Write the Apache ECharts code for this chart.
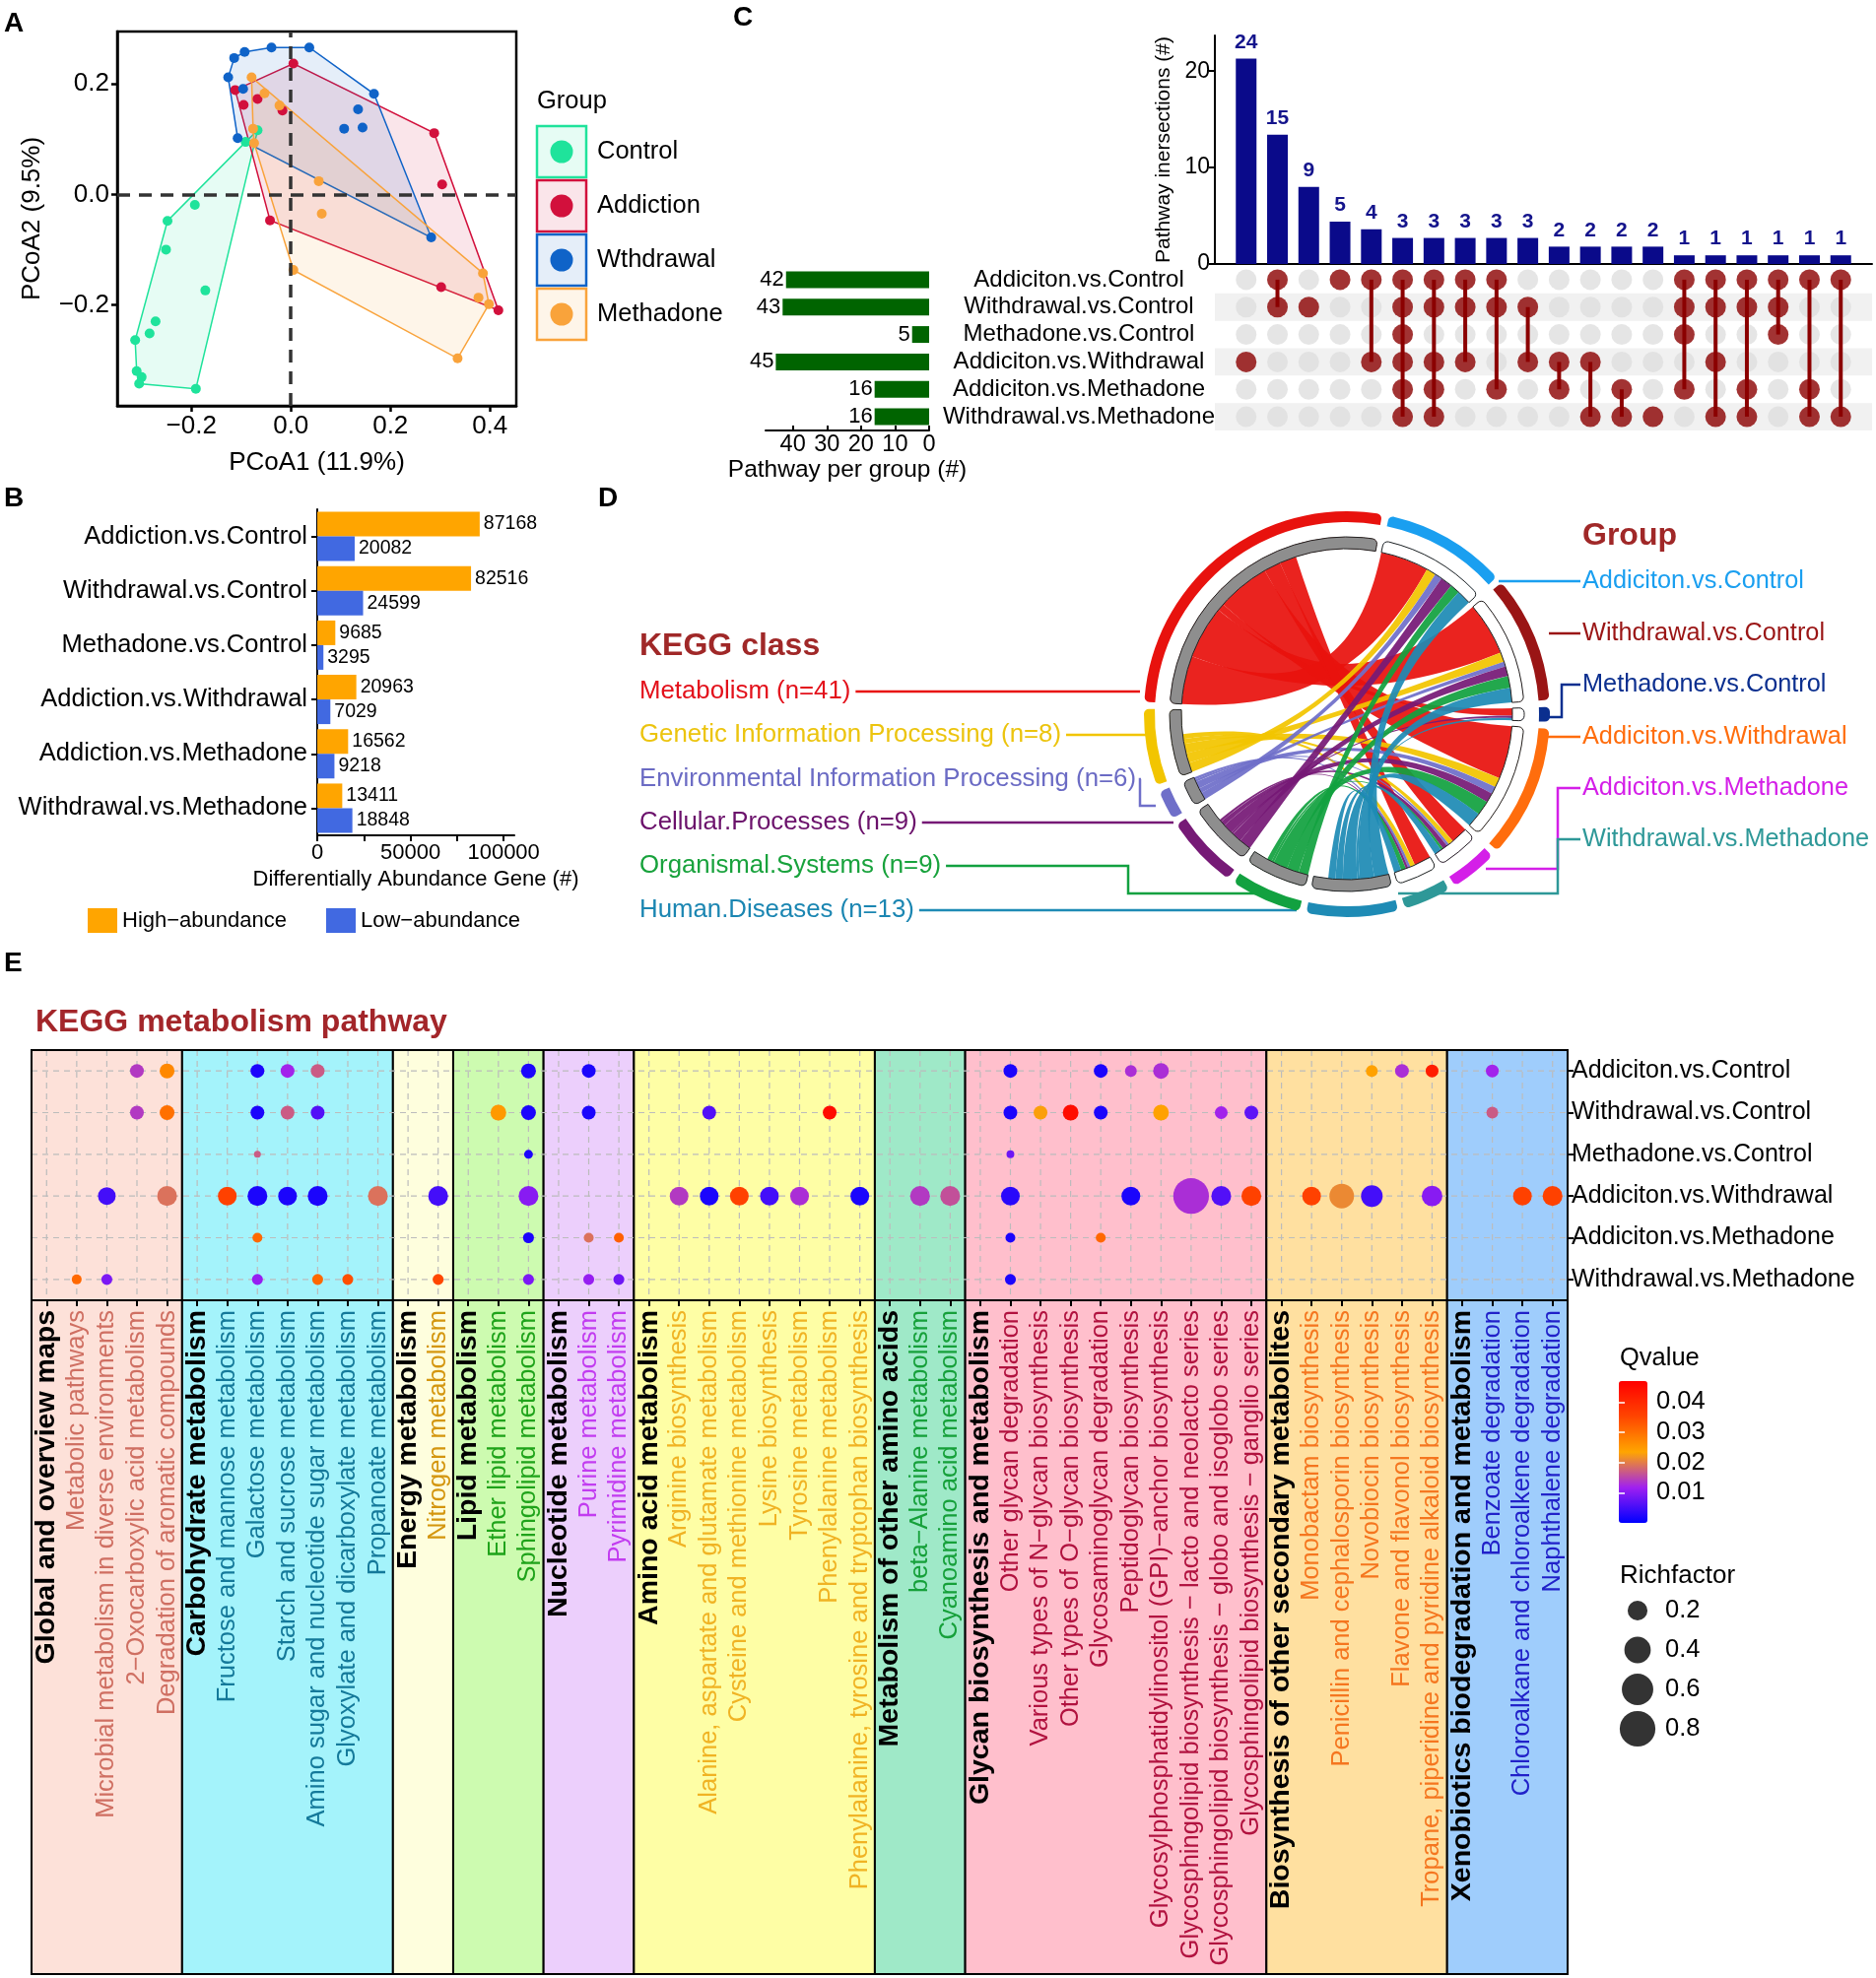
<!DOCTYPE html>
<html>
<head>
<meta charset="utf-8">
<script src="https://cdn.jsdelivr.net/npm/echarts@6.0.0/dist/echarts.min.js"></script>
<style>
html,body{margin:0;padding:0;background:#ffffff;}
#main{position:absolute;left:0;top:0;width:1904px;height:2008px;}
#chord{position:absolute;left:1100px;top:490px;width:540px;height:470px;}
</style>
</head>
<body>
<div id="main"></div>
<div id="chord"></div>
<script>
const MINUS = '\u2212';
const FONT = '"Liberation Sans", Arial, Helvetica, sans-serif';

// ================= Panel A : PCoA =================
const pcoaGroups = ['Control', 'Addiction', 'Wthdrawal', 'Methadone'];
const pcoaColors = ['#1fe39b', '#d2103c', '#0f63c8', '#f9a33b'];
const pcoaControl = [[-0.067,0.116],[-0.091,0.095],[-0.193,-0.019],[-0.248,-0.048],[-0.251,-0.100],[-0.172,-0.174],[-0.272,-0.230],[-0.284,-0.252],[-0.313,-0.264],[-0.310,-0.320],[-0.300,-0.331],[-0.305,-0.343],[-0.191,-0.352]];
const pcoaAddiction = [[0.005,0.237],[-0.112,0.189],[-0.067,0.173],[-0.095,0.162],[-0.017,0.152],[0.288,0.111],[0.304,0.018],[-0.042,-0.047],[0.302,-0.168],[0.417,-0.210]];
const pcoaWithdrawal = [[-0.039,0.266],[0.037,0.266],[-0.093,0.258],[-0.114,0.247],[-0.126,0.212],[-0.096,0.191],[0.167,0.182],[0.135,0.154],[0.107,0.119],[0.144,0.121],[-0.107,0.102],[0.282,-0.078]];
const pcoaMethadone = [[-0.079,0.212],[-0.053,0.183],[-0.023,0.161],[-0.076,0.119],[-0.074,0.093],[0.056,0.024],[0.062,-0.035],[0.005,-0.137],[0.386,-0.143],[0.377,-0.187],[0.398,-0.199],[0.335,-0.297]];
const pcoaPoints = [pcoaControl, pcoaAddiction, pcoaWithdrawal, pcoaMethadone];
const pcoaXTicks = [-0.2, 0, 0.2, 0.4];
const pcoaYTicks = [-0.2, 0, 0.2];

// ================= Panel B : DEG bars =================
const degCategories = ['Addiction.vs.Control','Withdrawal.vs.Control','Methadone.vs.Control','Addiction.vs.Withdrawal','Addiction.vs.Methadone','Withdrawal.vs.Methadone'];
const degHigh = [87168, 82516, 9685, 20963, 16562, 13411];
const degLow = [20082, 24599, 3295, 7029, 9218, 18848];
const degLegend = ['High' + MINUS + 'abundance', 'Low' + MINUS + 'abundance'];
const degXLabels = [0, 50000, 100000];
const degXTicks = [0, 25000, 50000, 75000, 100000];

// ================= Panel C : UpSet =================
const setNames = ['Addiciton.vs.Control','Withdrawal.vs.Control','Methadone.vs.Control','Addiciton.vs.Withdrawal','Addiciton.vs.Methadone','Withdrawal.vs.Methadone'];
const setSizes = [42, 43, 5, 45, 16, 16];
const setSizeTicks = [0, 10, 20, 30, 40];
const interLabels = [24, 15, 9, 5, 4, 3, 3, 3, 3, 3, 2, 2, 2, 2, 1, 1, 1, 1, 1, 1];
const interBarHeights = [21.3, 13.4, 8.0, 4.4, 3.6, 2.7, 2.7, 2.7, 2.7, 2.7, 1.8, 1.8, 1.8, 1.8, 0.9, 0.9, 0.9, 0.9, 0.9, 0.9];
const interSets = [[3],[0,1],[1],[0],[0,3],[0,1,2,3,4,5],[0,1,3,4,5],[0,1,3],[0,1,4],[1,3],[3,4],[3,5],[4,5],[5],[0,1,2,4],[0,1,3,5],[0,1,4,5],[0,1,2],[0,4,5],[0,5]];
const interYTicks = [0, 10, 20];

// ================= Panel D : chord =================
const keggClasses = ['Metabolism','Genetic Information Processing','Environmental Information Processing','Cellular.Processes','Organismal.Systems','Human.Diseases'];
const keggClassN = [41, 8, 6, 9, 9, 13];
const keggClassColors = ['#e8120e','#f2c500','#6f6fc9','#761a76','#12a140','#1e8bb5'];
const keggClassTextColors = ['#e3111b','#ecc40e','#6b6bc4','#6b116b','#18a23c','#1b86b2'];
const keggClassArc = [114, 26, 10, 25, 24, 31];
const chordGroupColors = ['#1a9ff0','#9a1515','#0b2f8f','#ff6d0d','#d41fe8','#2e9898'];
// rows: KEGG classes, columns: comparison groups
const chordLinks = [
  [20, 22, 3, 22, 7, 7],
  [4, 4, 0, 4, 2, 2],
  [3, 2, 0, 3, 1, 1],
  [5, 4, 1, 4, 2, 1],
  [4, 5, 0, 6, 1, 2],
  [6, 6, 1, 6, 3, 3]
];

// ================= Panel E : KEGG dot plot =================
const eClasses = ['Global and overview maps','Carbohydrate metabolism','Energy metabolism','Lipid metabolism','Nucleotide metabolism','Amino acid metabolism','Metabolism of other amino acids','Glycan biosynthesis and metabolism','Biosynthesis of other secondary metabolites','Xenobiotics biodegradation and metabolism'];
const ePathways = [
  ['Metabolic pathways','Microbial metabolism in diverse environments','2-Oxocarboxylic acid metabolism','Degradation of aromatic compounds'],
  ['Fructose and mannose metabolism','Galactose metabolism','Starch and sucrose metabolism','Amino sugar and nucleotide sugar metabolism','Glyoxylate and dicarboxylate metabolism','Propanoate metabolism'],
  ['Nitrogen metabolism'],
  ['Ether lipid metabolism','Sphingolipid metabolism'],
  ['Purine metabolism','Pyrimidine metabolism'],
  ['Arginine biosynthesis','Alanine, aspartate and glutamate metabolism','Cysteine and methionine metabolism','Lysine biosynthesis','Tyrosine metabolism','Phenylalanine metabolism','Phenylalanine, tyrosine and tryptophan biosynthesis'],
  ['beta-Alanine metabolism','Cyanoamino acid metabolism'],
  ['Other glycan degradation','Various types of N-glycan biosynthesis','Other types of O-glycan biosynthesis','Glycosaminoglycan degradation','Peptidoglycan biosynthesis','Glycosylphosphatidylinositol (GPI)-anchor biosynthesis','Glycosphingolipid biosynthesis - lacto and neolacto series','Glycosphingolipid biosynthesis - globo and isoglobo series','Glycosphingolipid biosynthesis - ganglio series'],
  ['Monobactam biosynthesis','Penicillin and cephalosporin biosynthesis','Novobiocin biosynthesis','Flavone and flavonol biosynthesis','Tropane, piperidine and pyridine alkaloid biosynthesis'],
  ['Benzoate degradation','Chloroalkane and chloroalkene degradation','Naphthalene degradation']
];
const eLabelColors = ['#cf6f62','#14799a','#d4960f','#1fa31a','#c23cf0','#f0b324','#16a03a','#b1123f','#f5761f','#2121c9'];
const eBgColors = ['#fde1d9','#a4f3fb','#fefedd','#cdfbb0','#eccffc','#fefea5','#9fe9c8','#ffbfcc','#ffe0a0','#9fcdfc'];
const eGroups = setNames;
// [pathway, qvalue, richfactor]
const eDotsAC = [
  ['2-Oxocarboxylic acid metabolism',0.014,0.077],['Degradation of aromatic compounds',0.027,0.094],
  ['Galactose metabolism',0.002,0.077],['Starch and sucrose metabolism',0.012,0.077],['Amino sugar and nucleotide sugar metabolism',0.017,0.077],
  ['Sphingolipid metabolism',0.002,0.094],['Purine metabolism',0.002,0.077],['Other glycan degradation',0.002,0.077],
  ['Glycosaminoglycan degradation',0.002,0.077],['Peptidoglycan biosynthesis',0.013,0.049],['Glycosylphosphatidylinositol (GPI)-anchor biosynthesis',0.013,0.11],
  ['Novobiocin biosynthesis',0.024,0.049],['Flavone and flavonol biosynthesis',0.013,0.077],['Tropane, piperidine and pyridine alkaloid biosynthesis',0.042,0.063],
  ['Benzoate degradation',0.012,0.063]
];
const eDotsWC = [
  ['2-Oxocarboxylic acid metabolism',0.014,0.077],['Degradation of aromatic compounds',0.030,0.094],
  ['Galactose metabolism',0.002,0.077],['Starch and sucrose metabolism',0.017,0.077],['Amino sugar and nucleotide sugar metabolism',0.006,0.077],
  ['Ether lipid metabolism',0.025,0.11],['Sphingolipid metabolism',0.002,0.094],['Purine metabolism',0.002,0.077],
  ['Alanine, aspartate and glutamate metabolism',0.006,0.077],['Phenylalanine metabolism',0.045,0.077],['Other glycan degradation',0.002,0.077],
  ['Various types of N-glycan biosynthesis',0.023,0.077],['Other types of O-glycan biosynthesis',0.045,0.11],['Glycosaminoglycan degradation',0.002,0.077],
  ['Glycosylphosphatidylinositol (GPI)-anchor biosynthesis',0.024,0.11],['Glycosphingolipid biosynthesis - globo and isoglobo series',0.012,0.063],
  ['Glycosphingolipid biosynthesis - ganglio series',0.007,0.077],['Benzoate degradation',0.017,0.049]
];
const eDotsMC = [
  ['Galactose metabolism',0.017,0.007],['Sphingolipid metabolism',0.002,0.019],['Other glycan degradation',0.008,0.012]
];
const eDotsAW = [
  ['Microbial metabolism in diverse environments',0.005,0.15],['Degradation of aromatic compounds',0.019,0.2],
  ['Fructose and mannose metabolism',0.036,0.174],['Galactose metabolism',0.002,0.2],['Starch and sucrose metabolism',0.002,0.174],
  ['Amino sugar and nucleotide sugar metabolism',0.002,0.2],['Propanoate metabolism',0.019,0.2],['Nitrogen metabolism',0.005,0.2],
  ['Sphingolipid metabolism',0.010,0.2],['Arginine biosynthesis',0.014,0.174],['Alanine, aspartate and glutamate metabolism',0.002,0.174],
  ['Cysteine and methionine metabolism',0.036,0.174],['Lysine biosynthesis',0.005,0.174],['Tyrosine metabolism',0.013,0.174],
  ['Phenylalanine, tyrosine and tryptophan biosynthesis',0.002,0.174],['beta-Alanine metabolism',0.014,0.2],['Cyanoamino acid metabolism',0.016,0.2],
  ['Other glycan degradation',0.003,0.174],['Peptidoglycan biosynthesis',0.002,0.174],['Glycosphingolipid biosynthesis - lacto and neolacto series',0.013,0.8],
  ['Glycosphingolipid biosynthesis - globo and isoglobo series',0.006,0.2],['Glycosphingolipid biosynthesis - ganglio series',0.036,0.2],
  ['Monobactam biosynthesis',0.036,0.174],['Penicillin and cephalosporin biosynthesis',0.021,0.34],['Novobiocin biosynthesis',0.005,0.25],
  ['Tropane, piperidine and pyridine alkaloid biosynthesis',0.010,0.22],['Chloroalkane and chloroalkene degradation',0.036,0.174],
  ['Naphthalene degradation',0.036,0.2]
];
const eDotsAM = [
  ['Galactose metabolism',0.031,0.028],['Sphingolipid metabolism',0.002,0.039],['Purine metabolism',0.019,0.028],
  ['Pyrimidine metabolism',0.032,0.028],['Other glycan degradation',0.002,0.028],['Glycosaminoglycan degradation',0.031,0.028]
];
const eDotsWM = [
  ['Metabolic pathways',0.031,0.028],['Microbial metabolism in diverse environments',0.009,0.039],['Galactose metabolism',0.011,0.039],
  ['Amino sugar and nucleotide sugar metabolism',0.031,0.039],['Glyoxylate and dicarboxylate metabolism',0.034,0.039],['Nitrogen metabolism',0.035,0.039],
  ['Sphingolipid metabolism',0.009,0.039],['Purine metabolism',0.011,0.039],['Pyrimidine metabolism',0.008,0.039],['Other glycan degradation',0.002,0.039]
];
const eDotsByGroup = [eDotsAC, eDotsWC, eDotsMC, eDotsAW, eDotsAM, eDotsWM];
const qRange = [0, 0.047];
const qColors = ['#0000ff', '#a020f0', '#ffa500', '#ff4500', '#ff0000'];
const qTicks = [0.01, 0.02, 0.03, 0.04];
const richLegend = [0.2, 0.4, 0.6, 0.8];

// ================= helpers =================
const mfix = s => s.replace(/-/g, MINUS);
function hexA(hex, a) {
  const n = parseInt(hex.slice(1), 16);
  return 'rgba(' + ((n >> 16) & 255) + ',' + ((n >> 8) & 255) + ',' + (n & 255) + ',' + a + ')';
}
function convexHull(pts) {
  const p = pts.slice().sort((a, b) => a[0] - b[0] || a[1] - b[1]);
  const cr = (o, a, b) => (a[0] - o[0]) * (b[1] - o[1]) - (a[1] - o[1]) * (b[0] - o[0]);
  const lo = [], up = [];
  for (const q of p) { while (lo.length >= 2 && cr(lo[lo.length - 2], lo[lo.length - 1], q) <= 0) lo.pop(); lo.push(q); }
  for (let i = p.length - 1; i >= 0; i--) { const q = p[i]; while (up.length >= 2 && cr(up[up.length - 2], up[up.length - 1], q) <= 0) up.pop(); up.push(q); }
  lo.pop(); up.pop();
  return lo.concat(up);
}
const fmtMinus = v => (v < 0 ? MINUS : '') + Math.abs(v).toFixed(1);
const richSize = rf => 4 + 36 * Math.sqrt(rf);
const _ctx = document.createElement('canvas').getContext('2d');
function textW(t, font) { _ctx.font = font; return _ctx.measureText(t).width; }
const F = (size, bold) => (bold ? 'bold ' : '') + size + 'px ' + FONT;

// E categories
const eCategories = [];
const eCatClass = [];
const eIsHeader = {};
eClasses.forEach((c, ci) => {
  eCategories.push(c); eCatClass.push(ci); eIsHeader[c] = true;
  ePathways[ci].forEach(p => { eCategories.push(mfix(p)); eCatClass.push(ci); });
});
const eClassRanges = [];
{
  let s = 0;
  eClasses.forEach((c, ci) => { const n = ePathways[ci].length + 1; eClassRanges.push([s, s + n - 1, ci]); s += n; });
}
const eScatterData = [];
eDotsByGroup.forEach((arr, gi) => arr.forEach(d => {
  const xi = eCategories.indexOf(mfix(d[0]));
  if (xi >= 0) eScatterData.push([xi, gi, d[1], d[2]]);
}));

// ================= build option =================
const grids = [], xAxes = [], yAxes = [], series = [];
const blackLine = w => ({ show: true, onZero: false, lineStyle: { color: '#000', width: w } });
const noAxis = { show: false };

// ---- A ----
grids.push({ left: 119, top: 32, width: 405, height: 380, show: true, borderColor: '#000', borderWidth: 2.5, backgroundColor: 'transparent' });
xAxes.push({ type: 'value', gridIndex: 0, min: -0.349, max: 0.453, axisLine: blackLine(2.5),
  axisTick: { show: true, customValues: pcoaXTicks, length: 6, lineStyle: { color: '#000', width: 2.5 } },
  axisLabel: { customValues: pcoaXTicks, formatter: fmtMinus, fontSize: 26, color: '#000', margin: 8 },
  splitLine: { show: false }, name: 'PCoA1 (11.9%)', nameLocation: 'middle', nameGap: 45, nameTextStyle: { fontSize: 26, color: '#000' } });
yAxes.push({ type: 'value', gridIndex: 0, min: -0.383, max: 0.295, axisLine: blackLine(2.5),
  axisTick: { show: true, customValues: pcoaYTicks, length: 6, lineStyle: { color: '#000', width: 2.5 } },
  axisLabel: { customValues: pcoaYTicks, formatter: fmtMinus, fontSize: 26, color: '#000', margin: 8 },
  splitLine: { show: false }, name: 'PCoA2 (9.5%)', nameLocation: 'middle', nameRotate: 90, nameGap: 73, nameTextStyle: { fontSize: 26, color: '#000' } });
pcoaPoints.forEach((pts, gi) => {
  const hp = convexHull(pts);
  series.push({ type: 'custom', xAxisIndex: 0, yAxisIndex: 0, z: 1, silent: true, data: [[0, 0]],
    renderItem: (params, api) => ({ type: 'polygon', shape: { points: hp.map(p => api.coord(p)) },
      style: { fill: hexA(pcoaColors[gi], 0.11), stroke: pcoaColors[gi], lineWidth: 1.5 } }) });
});
series.push({ type: 'scatter', xAxisIndex: 0, yAxisIndex: 0, z: 2, data: [], silent: true,
  markLine: { silent: true, symbol: ['none', 'none'], label: { show: false },
    lineStyle: { color: '#333', width: 3.5, type: [13, 9] }, data: [{ xAxis: 0 }, { yAxis: 0 }] } });
pcoaPoints.forEach((pts, gi) => {
  series.push({ type: 'scatter', name: pcoaGroups[gi], xAxisIndex: 0, yAxisIndex: 0, z: 3, data: pts,
    symbolSize: 10, itemStyle: { color: pcoaColors[gi], opacity: 1 } });
});

// ---- B ----
grids.push({ left: 322, top: 517, width: 200, height: 331 });
xAxes.push({ type: 'value', gridIndex: 1, min: 0, max: 105745, axisLine: blackLine(2),
  axisTick: { show: true, customValues: degXTicks, length: 6, lineStyle: { color: '#000', width: 2 } },
  axisLabel: { customValues: degXLabels, formatter: v => String(v), fontSize: 22, color: '#000', margin: 7 }, splitLine: { show: false },
  name: 'Differentially Abundance Gene (#)', nameLocation: 'middle', nameGap: 34, nameTextStyle: { fontSize: 22, color: '#000' } });
yAxes.push({ type: 'category', gridIndex: 1, data: degCategories, inverse: true, axisLine: blackLine(2),
  axisTick: { show: true, alignWithLabel: true, length: 6, lineStyle: { color: '#000', width: 2 } },
  axisLabel: { interval: 0, fontSize: 25.5, color: '#000', margin: 10 } });
series.push({ type: 'bar', name: degLegend[0], xAxisIndex: 1, yAxisIndex: 1, data: degHigh, barWidth: 25, barGap: '0%',
  itemStyle: { color: '#ffa500' }, label: { show: true, position: 'right', distance: 4, fontSize: 19.5, color: '#000' } });
series.push({ type: 'bar', name: degLegend[1], xAxisIndex: 1, yAxisIndex: 1, data: degLow, barWidth: 25, barGap: '0%',
  itemStyle: { color: '#4169e1' }, label: { show: true, position: 'right', distance: 4, fontSize: 19.5, color: '#000' } });

// ---- C top bars ----
grids.push({ left: 1233, top: 36, width: 667, height: 232 });
xAxes.push({ type: 'value', gridIndex: 2, min: -1, max: 20, axisLine: blackLine(2), axisTick: noAxis, axisLabel: noAxis, splitLine: noAxis });
yAxes.push({ type: 'value', gridIndex: 2, min: 0, max: 23.7, axisLine: blackLine(2),
  axisTick: { show: true, customValues: interYTicks, length: 6, lineStyle: { color: '#000', width: 2 } },
  axisLabel: { customValues: interYTicks, fontSize: 23, color: '#000', margin: 5 }, splitLine: { show: false },
  name: 'Pathway inersections (#)', nameLocation: 'middle', nameRotate: 90, nameGap: 41, nameTextStyle: { fontSize: 21, color: '#000' } });
series.push({ type: 'bar', xAxisIndex: 2, yAxisIndex: 2, barWidth: 21, data: interBarHeights.map((h, i) => [i, h]),
  itemStyle: { color: '#0a0a8a' },
  label: { show: true, position: 'top', distance: 6, fontSize: 21, fontWeight: 'bold', color: '#14148c', formatter: p => String(interLabels[p.dataIndex]) } });

// ---- C matrix ----
grids.push({ left: 1233, top: 270, width: 667, height: 167 });
xAxes.push({ type: 'value', gridIndex: 3, min: -1, max: 20, show: false });
yAxes.push({ type: 'category', gridIndex: 3, data: setNames, inverse: true, show: false });
series.push({ type: 'custom', xAxisIndex: 3, yAxisIndex: 3, silent: true, z: 1, data: [[0, 1], [0, 3], [0, 5]],
  renderItem: (params, api) => {
    const cy = api.coord([0, api.value(1)])[1];
    const h = api.size([0, 1])[1];
    const cs = params.coordSys;
    return { type: 'rect', shape: { x: cs.x, y: cy - h / 2, width: cs.width, height: h }, style: { fill: '#f1f1f1' } };
  } });
const grayDots = [], redDots = [], linkCols = [];
interSets.forEach((s, i) => {
  for (let r = 0; r < setNames.length; r++) (s.includes(r) ? redDots : grayDots).push([i, r]);
  if (s.length > 1) linkCols.push([i, Math.min(...s), Math.max(...s)]);
});
series.push({ type: 'scatter', xAxisIndex: 3, yAxisIndex: 3, z: 2, silent: true, data: grayDots, symbolSize: 21, itemStyle: { color: '#dedede' } });
series.push({ type: 'custom', xAxisIndex: 3, yAxisIndex: 3, z: 3, silent: true, data: linkCols,
  renderItem: (params, api) => {
    const a = api.coord([api.value(0), api.value(1)]);
    const b = api.coord([api.value(0), api.value(2)]);
    return { type: 'line', shape: { x1: a[0], y1: a[1], x2: b[0], y2: b[1] }, style: { stroke: '#8b0000', lineWidth: 4 } };
  } });
series.push({ type: 'scatter', xAxisIndex: 3, yAxisIndex: 3, z: 4, silent: true, data: redDots, symbolSize: 21, itemStyle: { color: '#8b0000' } });

// ---- C set sizes ----
grids.push({ left: 777, top: 270, width: 166, height: 167 });
xAxes.push({ type: 'value', gridIndex: 4, inverse: true, min: 0, max: 48, axisLine: blackLine(2),
  axisTick: { show: true, customValues: setSizeTicks, length: 5, inside: true, lineStyle: { color: '#000', width: 2 } },
  axisLabel: { customValues: setSizeTicks, fontSize: 23.5, color: '#000', margin: 3 }, splitLine: { show: false },
  name: 'Pathway per group (#)', nameLocation: 'middle', nameGap: 27, nameTextStyle: { fontSize: 24.5, color: '#000' } });
yAxes.push({ type: 'category', gridIndex: 4, data: setNames, inverse: true, position: 'right', axisLine: { show: false }, axisTick: { show: false },
  axisLabel: { interval: 0, fontSize: 24, color: '#000', align: 'center', margin: 152 } });
series.push({ type: 'bar', xAxisIndex: 4, yAxisIndex: 4, data: setSizes, barWidth: 17, itemStyle: { color: '#006400' },
  label: { show: true, position: 'left', distance: 2, fontSize: 22, color: '#000' } });

// ---- E background ----
grids.push({ left: 32, top: 1066, width: 1559, height: 938 });
xAxes.push({ type: 'category', gridIndex: 5, data: eCategories, show: false });
yAxes.push({ type: 'value', gridIndex: 5, min: 0, max: 1, show: false });
series.push({ type: 'custom', xAxisIndex: 5, yAxisIndex: 5, z: 1, silent: true, data: eClassRanges,
  renderItem: (params, api) => {
    const bw = api.size([1, 0])[0];
    const x0 = api.coord([api.value(0), 0])[0] - bw / 2;
    const x1 = api.coord([api.value(1), 0])[0] + bw / 2;
    const cs = params.coordSys;
    return { type: 'rect', shape: { x: x0, y: cs.y, width: x1 - x0, height: cs.height },
      style: { fill: eBgColors[api.value(2)], stroke: '#000', lineWidth: 2 } };
  } });

// ---- E main dot plot ----
grids.push({ left: 32, top: 1066, width: 1559, height: 254, show: true, borderColor: '#000', borderWidth: 2, backgroundColor: 'transparent', z: 4 });
xAxes.push({ type: 'category', gridIndex: 6, data: eCategories, z: 3, axisLine: blackLine(2),
  axisTick: { show: true, alignWithLabel: true, length: 6, lineStyle: { color: '#000', width: 2 } },
  splitLine: { show: false },
  axisLabel: { interval: 0, rotate: 90, margin: 10, fontSize: 25.5,
    color: (v, i) => eLabelColors[eCatClass[eCategories.indexOf(v)]],
    formatter: v => (eIsHeader[v] ? '{h|' + v + '}' : '{n|' + v + '}'),
    rich: { h: { fontSize: 28.5, fontWeight: 'bold', color: '#000' }, n: { fontSize: 25.5 } } } });
yAxes.push({ type: 'category', gridIndex: 6, data: eGroups, inverse: true, position: 'right', z: 3, axisLine: blackLine(2),
  axisTick: { show: true, alignWithLabel: true, length: 6, lineStyle: { color: '#000', width: 2 } },
  splitLine: { show: false }, axisLabel: { interval: 0, fontSize: 25, color: '#000', margin: 4 } });
series.push({ type: 'custom', xAxisIndex: 6, yAxisIndex: 6, z: 2, silent: true, data: [[0, 0]],
  renderItem: (params, api) => {
    const cs = params.coordSys, kids = [];
    const st = { stroke: '#bcbcbc', lineWidth: 1.2, lineDash: [6, 5] };
    for (let i = 0; i < eCategories.length; i++) {
      const x = api.coord([i, 0])[0];
      kids.push({ type: 'line', shape: { x1: x, y1: cs.y, x2: x, y2: cs.y + cs.height }, style: st });
    }
    for (let r = 0; r < eGroups.length; r++) {
      const y = api.coord([0, r])[1];
      kids.push({ type: 'line', shape: { x1: cs.x, y1: y, x2: cs.x + cs.width, y2: y }, style: st });
    }
    return { type: 'group', children: kids };
  } });
const eScatterIdx = series.length;
series.push({ type: 'scatter', xAxisIndex: 6, yAxisIndex: 6, z: 5, data: eScatterData,
  symbolSize: v => richSize(v[3]), itemStyle: { opacity: 1 } });

// ---- E qvalue colorbar axis ----
grids.push({ left: 1643, top: 1402, width: 29, height: 144 });
xAxes.push({ type: 'value', gridIndex: 7, show: false, min: 0, max: 1 });
yAxes.push({ type: 'value', gridIndex: 7, min: qRange[0], max: qRange[1], position: 'right', z: 10,
  axisLine: { show: false }, splitLine: { show: false },
  axisTick: { show: true, inside: true, customValues: qTicks, length: 6, lineStyle: { color: '#ffffff', width: 1.5 } },
  axisLabel: { customValues: qTicks, formatter: v => v.toFixed(2), fontSize: 25.5, color: '#000', margin: 9 } });
yAxes.push({ type: 'value', gridIndex: 7, min: qRange[0], max: qRange[1], position: 'left', z: 10,
  axisLine: { show: false }, splitLine: { show: false }, axisLabel: { show: false },
  axisTick: { show: true, inside: true, customValues: qTicks, length: 6, lineStyle: { color: '#ffffff', width: 1.5 } } });
series.push({ type: 'scatter', xAxisIndex: 7, yAxisIndex: 7, data: [], silent: true });

// ---- E richfactor legend ----
grids.push({ left: 1640, top: 1615, width: 44, height: 160 });
xAxes.push({ type: 'value', gridIndex: 8, show: false, min: 0, max: 1 });
yAxes.push({ type: 'category', gridIndex: 8, data: richLegend.map(v => v.toFixed(1)), inverse: true, position: 'right',
  axisLine: { show: false }, axisTick: { show: false }, axisLabel: { interval: 0, fontSize: 25.5, color: '#000', margin: 6 } });
series.push({ type: 'scatter', xAxisIndex: 8, yAxisIndex: yAxes.length - 1, z: 5, silent: true,
  data: richLegend.map((v, i) => [0.5, i, v]), symbolSize: v => richSize(v[2]), itemStyle: { color: '#000' } });

// ---- graphics (titles, legends, leader lines) ----
const graphics = [];
const txt = (text, x, y, size, opts = {}) => graphics.push({ type: 'text', x: x, y: y, silent: true,
  style: { text: text, font: F(size, opts.bold), fill: opts.color || '#000', textAlign: opts.align || 'left', textVerticalAlign: 'middle' } });
const poly = (pts, color, w) => graphics.push({ type: 'polyline', silent: true, shape: { points: pts }, style: { stroke: color, lineWidth: w, fill: null } });

txt('A', 4, 24, 28, { bold: true });
txt('B', 4, 506, 28, { bold: true });
txt('C', 744, 18, 28, { bold: true });
txt('D', 607, 506, 28, { bold: true });
txt('E', 4, 978, 28, { bold: true });

// A legend
txt('Group', 545, 103, 25.5);
pcoaGroups.forEach((g, i) => {
  const y0 = 128 + 55 * i;
  graphics.push({ type: 'rect', silent: true, shape: { x: 545, y: y0, width: 50, height: 52 },
    style: { fill: hexA(pcoaColors[i], 0.11), stroke: pcoaColors[i], lineWidth: 2.5 } });
  graphics.push({ type: 'circle', silent: true, shape: { cx: 570, cy: y0 + 26, r: 11.5 }, style: { fill: pcoaColors[i] } });
  txt(g, 606, y0 + 26, 25.5);
});

// D labels
txt('KEGG class', 649, 656, 32, { bold: true, color: '#a02828' });
txt('Group', 1606, 544, 32, { bold: true, color: '#a02828' });
const classLabelY = [702, 746, 791, 835, 879, 924];
const classLeader = [
  [[1157, 702]],
  [[1163, 746]],
  [[1157, 791], [1157, 818], [1173, 818]],
  [[1191, 835]],
  [[1145, 879], [1145, 907], [1290, 907]],
  [[1316, 924]]
];
keggClasses.forEach((c, i) => {
  const label = c + ' (n=' + keggClassN[i] + ')';
  txt(label, 649, classLabelY[i], 25.8, { color: keggClassTextColors[i] });
  const x0 = 649 + textW(label, F(25.8)) + 5;
  poly([[x0, classLabelY[i]]].concat(classLeader[i]), keggClassColors[i], 2.5);
});
const groupLabelY = [590, 643, 695, 748, 800, 852];
const groupLeader = [
  [[1521, 590], [1604, 590]],
  [[1572, 643], [1604, 643]],
  [[1569, 728], [1585, 728], [1585, 695], [1604, 695]],
  [[1569, 748], [1604, 748]],
  [[1508, 882], [1581, 882], [1581, 800], [1604, 800]],
  [[1419, 907], [1581, 907], [1581, 852], [1604, 852]]
];
setNames.forEach((g, i) => {
  txt(g, 1606, groupLabelY[i], 25.3, { color: chordGroupColors[i] });
  poly(groupLeader[i], chordGroupColors[i], 2.5);
});

// E titles
txt('KEGG metabolism pathway', 36, 1038, 32, { bold: true, color: '#a3262a' });
txt('Qvalue', 1644, 1379, 25.5);
txt('Richfactor', 1644, 1600, 26);

const option = {
  animation: false,
  backgroundColor: '#ffffff',
  textStyle: { fontFamily: FONT },
  grid: grids, xAxis: xAxes, yAxis: yAxes, series: series,
  legend: { data: degLegend, left: 84, top: 917, itemWidth: 30, itemHeight: 25, itemGap: 40, icon: 'rect', selectedMode: false,
    textStyle: { fontSize: 22, color: '#000' } },
  visualMap: { type: 'continuous', seriesIndex: eScatterIdx, dimension: 2, min: qRange[0], max: qRange[1],
    inRange: { color: qColors }, left: 1643, top: 1402, itemWidth: 29, itemHeight: 144, padding: 0, calculable: false, hoverLink: false },
  graphic: graphics
};
const chart = echarts.init(document.getElementById('main'));
chart.setOption(option);

// ---- D chord (separate instance) ----
const chordLinkList = [];
chordLinks.forEach((row, ci) => row.forEach((v, gi) => {
  if (v > 0) chordLinkList.push({ source: keggClasses[ci], target: setNames[gi], value: v });
}));
const makeNodes = (groupStyle, classStyle) => setNames.map((g, i) => ({ name: g, itemStyle: groupStyle(i) }))
  .concat(keggClasses.map((c, i) => ({ name: c, value: keggClassArc[i], itemStyle: classStyle(i) })).reverse());
const chordCommon = { type: 'chord', center: [267, 235], startAngle: 78, clockwise: true, padAngle: 2, minAngle: 3,
  silent: true, label: { show: false }, emphasis: { disabled: true }, links: chordLinkList };
const colouredNodes = makeNodes(i => ({ color: chordGroupColors[i], borderWidth: 0 }), i => ({ color: keggClassColors[i], borderWidth: 0 }));
const chordChart = echarts.init(document.getElementById('chord'));
chordChart.setOption({
  animation: false,
  series: [
    Object.assign({}, chordCommon, { radius: [195, 206], data: colouredNodes, lineStyle: { opacity: 0 } }),
    Object.assign({}, chordCommon, { radius: [168, 180], data: colouredNodes, lineStyle: { color: 'source', opacity: 0.93 } }),
    Object.assign({}, chordCommon, { radius: [168, 180],
      data: makeNodes(() => ({ color: '#ffffff', borderColor: '#222', borderWidth: 1 }), () => ({ color: '#8e8e8e', borderColor: '#222', borderWidth: 1 })),
      lineStyle: { opacity: 0 } })
  ]
});
</script>
</body>
</html>
